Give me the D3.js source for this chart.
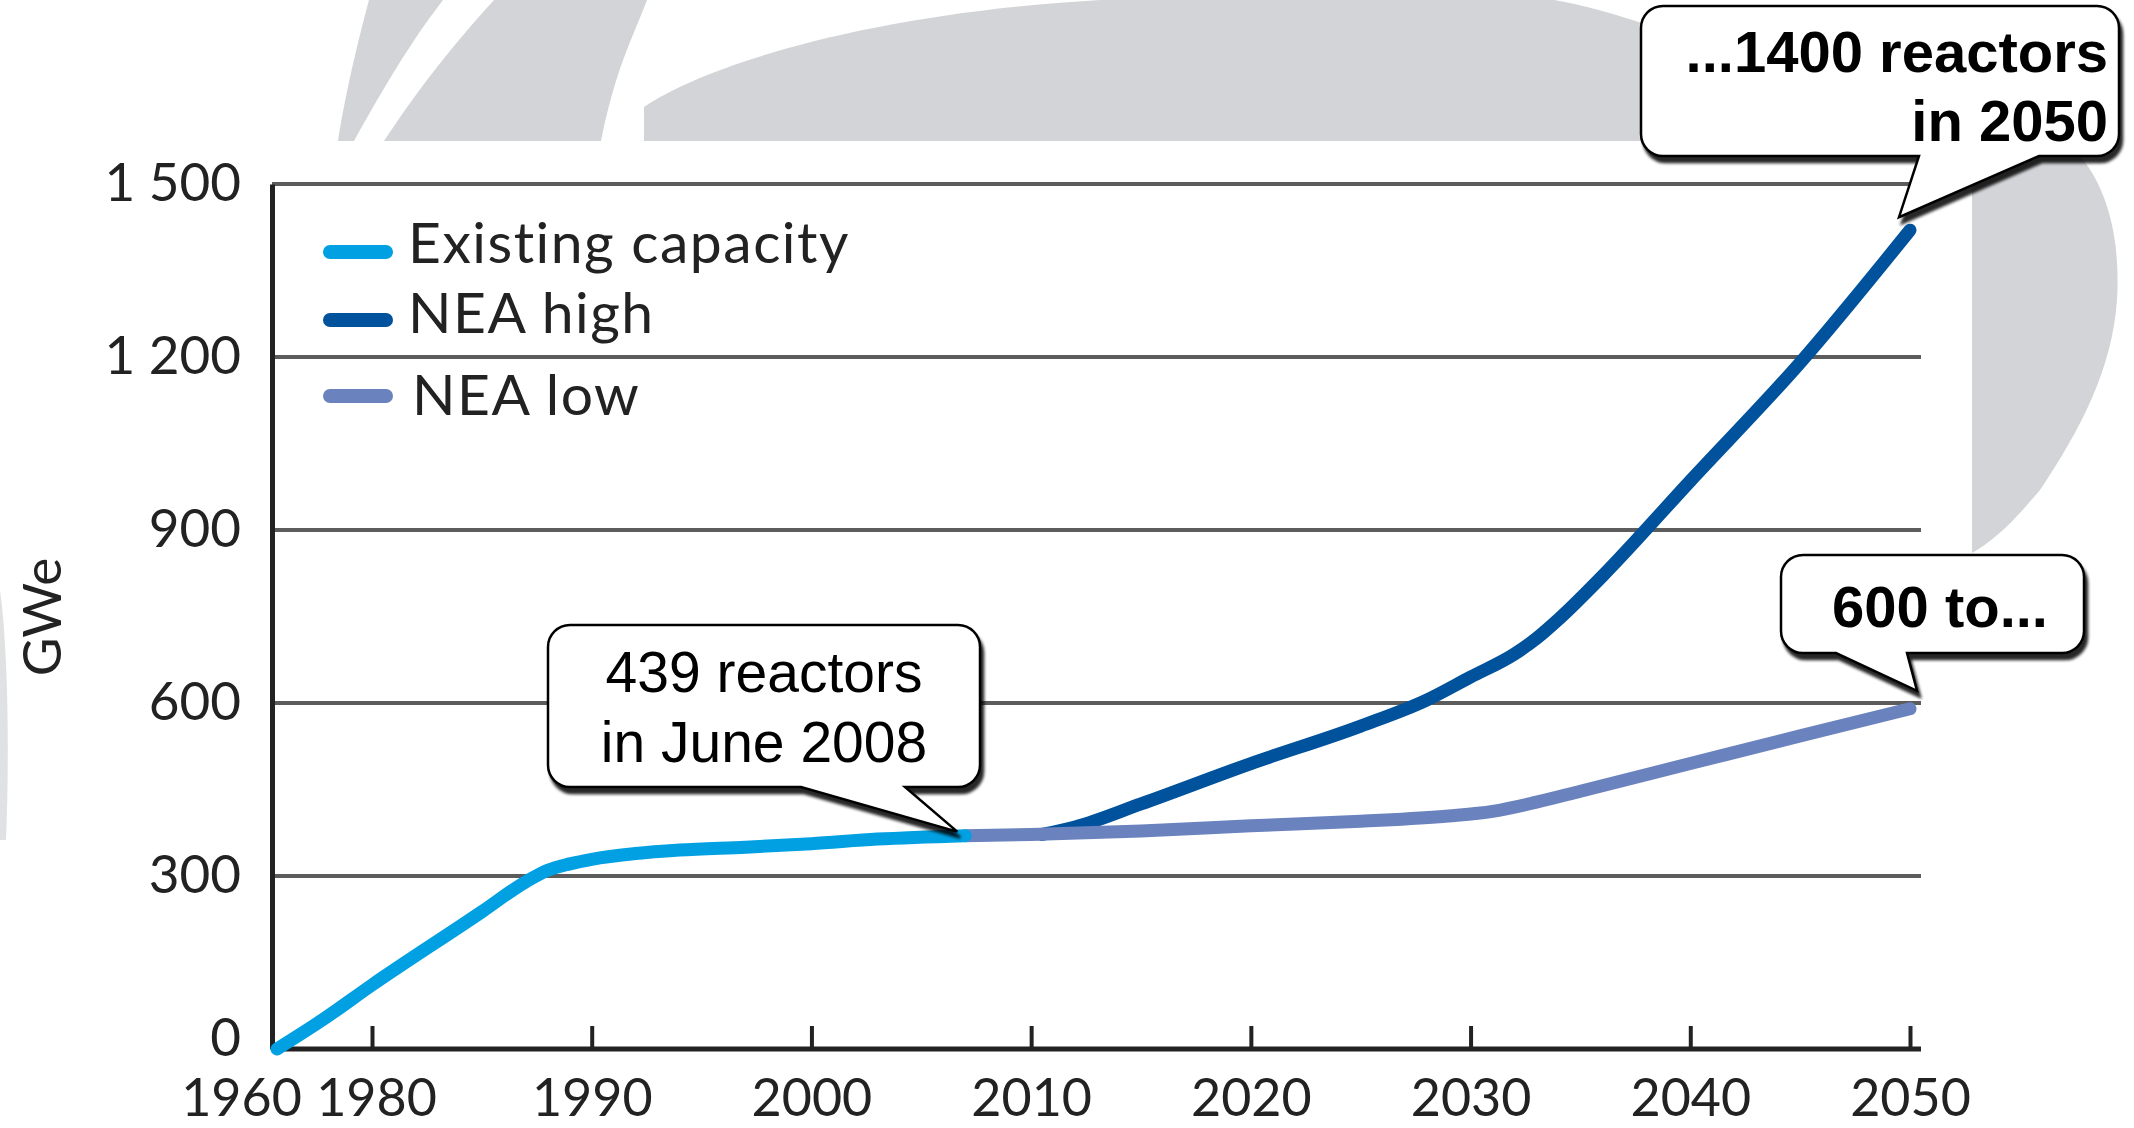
<!DOCTYPE html>
<html><head><meta charset="utf-8">
<script src="https://cdn.jsdelivr.net/npm/d3@7"></script>
<style>html,body{margin:0;padding:0;background:#fff;overflow:hidden} text{font-variant-ligatures:none;font-feature-settings:"liga" 0}</style>
</head><body>
<svg id="chart" width="2134" height="1128"></svg>
<script>
// ---- data ----
const existingYears  = [1961, 1970, 1980, 1985, 1987, 1988, 1989, 1990, 1992, 1994, 1997, 2000, 2003, 2007];
const existingValues = [0,    50,   111,  238,  290,  310,  321,  329,  339,  345,  350,  356,  364,  370];
const highYears  = [2010.5, 2012, 2015, 2020, 2025, 2028, 2030, 2032, 2033, 2034, 2036, 2040, 2045, 2050];
const highValues = [372,    385,  425,  495,  560,  605,  645,  685,  712,  745,  820,  985,  1190, 1420];
const lowYears  = [2007, 2010, 2015, 2020, 2025, 2029, 2031, 2033, 2035, 2040, 2045, 2050];
const lowValues = [370,  372,  378,  387,  395,  404,  412,  428,  447,  495,  543,  590];
const seriesNames  = ["Existing capacity", "NEA high", "NEA low"];
const seriesColors = ["#00a0e2", "#00529c", "#6a83be"];
const xTicks = [1960, 1980, 1990, 2000, 2010, 2020, 2030, 2040, 2050];
const xTickLabels = ["1960", "1980", "1990", "2000", "2010", "2020", "2030", "2040", "2050"];
const yTicks = [0, 300, 600, 900, 1200, 1500];
const yTickLabels = ["0", "300", "600", "900", "1 200", "1 500"];
const yLabel = "GWe";
const callout1 = ["439 reactors", "in June 2008"];
const callout2 = ["...1400 reactors", "in 2050"];
const callout3 = ["600 to..."];

const svg = d3.select("#chart");
const lightFont = "Lato, 'Open Sans', sans-serif";
const calloutFont = "'Liberation Sans', Arial, sans-serif";

// ---- scales ----
const x = d3.scaleLinear().domain([1960, 1980, 2050]).range([272, 372, 1910]);
const y = d3.scaleLinear().domain([0, 1500]).range([1049, 184]);
const xEnd = x(2050.5);

// ---- defs ----
const defs = svg.append("defs");
const f = defs.append("filter").attr("id", "shadow").attr("x", "-10%").attr("y", "-10%").attr("width", "130%").attr("height", "140%");
f.append("feGaussianBlur").attr("in", "SourceAlpha").attr("stdDeviation", 1.8).attr("result", "b");
f.append("feOffset").attr("in", "b").attr("dx", 3).attr("dy", 6).attr("result", "o");
f.append("feComponentTransfer").attr("in", "o").attr("result", "s")
  .append("feFuncA").attr("type", "linear").attr("slope", 0.85);
const m = f.append("feMerge");
m.append("feMergeNode").attr("in", "s");
m.append("feMergeNode").attr("in", "SourceGraphic");

// ---- background watermark ----
const wm = svg.append("g").attr("fill", "#d2d4d7");
wm.append("path").attr("d", "M338,141 C343,110 351,67 369,0 L443,0 C420,30 395,67 354,141 Z");
wm.append("path").attr("d", "M384,141 C405,110 433,67 494,0 L647,0 C632,40 616,67 601,141 Z");
wm.append("path").attr("d", "M644,141 L644,107 C700,68 860,14 1100,0 L1554,0 C1600,8 1640,22 1720,50 L1720,141 Z");
wm.append("path").attr("d", "M1972,157 L2081,157 C2112,195 2120,250 2117,300 C2112,370 2080,430 2040,490 C2015,520 1995,540 1972,553 Z");
wm.append("path").attr("d", "M0,590 C7,640 10,740 6,840 L0,840 Z").attr("opacity", 0.7);

// ---- gridlines ----
svg.append("g").selectAll("line").data(yTicks.filter(d => d > 0)).join("line")
  .attr("x1", x(1960)).attr("x2", xEnd)
  .attr("y1", d => y(d)).attr("y2", d => y(d))
  .attr("stroke", "#5c5c5c").attr("stroke-width", 4);

// ---- axes ----
const xAxis = svg.append("g").attr("transform", `translate(0,${y(0)})`)
  .call(d3.axisBottom(x).tickValues(xTicks).tickFormat((d, i) => xTickLabels[i])
    .tickSizeInner(-23).tickSizeOuter(0).tickPadding(30));
xAxis.select(".domain").attr("d", `M${x(1960)},0H${xEnd}`).attr("stroke", "#222").attr("stroke-width", 5);
xAxis.selectAll(".tick line").attr("stroke", "#222").attr("stroke-width", 4);
xAxis.selectAll(".tick").filter(d => d === 1960).select("line").remove();
xAxis.selectAll(".tick text").attr("font-family", lightFont).attr("font-weight", 400)
  .attr("font-size", 52).attr("fill", "#222")
  .attr("y", 67).attr("dy", 0)
  .attr("dx", d => d === 1960 ? -31 : (d === 1980 ? 4 : 0));

const yAxis = svg.append("g").attr("transform", `translate(${x(1960)},0)`)
  .call(d3.axisLeft(y).tickValues(yTicks).tickFormat((d, i) => yTickLabels[i]).tickSize(0).tickPadding(31));
yAxis.select(".domain").attr("stroke", "#222").attr("stroke-width", 5);
yAxis.selectAll(".tick text").attr("font-family", lightFont).attr("font-weight", 400)
  .attr("font-size", 53).attr("fill", "#222")
  .attr("dy", d => d === 0 ? "0.12em" : "0.32em");

svg.append("text").attr("transform", `translate(40,617) rotate(-90)`)
  .attr("text-anchor", "middle").attr("dominant-baseline", "central")
  .attr("font-family", lightFont).attr("font-weight", 400).attr("font-size", 53).attr("fill", "#222")
  .text(yLabel);

// ---- lines ----
const line = d3.line().x(d => x(d[0])).y(d => y(d[1])).curve(d3.curveMonotoneX);
const zip = (a, b) => a.map((v, i) => [v, b[i]]);
const series = [
  {name: seriesNames[1], color: seriesColors[1], pts: zip(highYears, highValues)},
  {name: seriesNames[2], color: seriesColors[2], pts: zip(lowYears, lowValues)},
  {name: seriesNames[0], color: seriesColors[0], pts: zip(existingYears, existingValues)}
];
svg.append("g").selectAll("path").data(series).join("path")
  .attr("d", d => line(d.pts)).attr("fill", "none").attr("stroke", d => d.color)
  .attr("stroke-width", 13).attr("stroke-linecap", "round").attr("stroke-linejoin", "round");

// ---- legend ----
const legY = [252, 320, 396], legTextY = [263, 333, 415], legTextX = [408, 408, 412];
const leg = svg.append("g").selectAll("g").data(seriesNames).join("g");
leg.append("line").attr("x1", 330).attr("x2", 386).attr("y1", (d, i) => legY[i]).attr("y2", (d, i) => legY[i])
  .attr("stroke", (d, i) => seriesColors[i]).attr("stroke-width", 14).attr("stroke-linecap", "round");
leg.append("text").attr("x", (d, i) => legTextX[i]).attr("y", (d, i) => legTextY[i])
  .attr("font-family", lightFont).attr("font-weight", 400).attr("font-size", 57).attr("fill", "#222")
  .attr("letter-spacing", 1.5)
  .text(d => d);

// ---- callouts ----
function calloutPath(x0, y0, x1, y1, r, bx0, bx1, tx, ty) {
  return `M${x0 + r},${y0}H${x1 - r}A${r},${r} 0 0 1 ${x1},${y0 + r}V${y1 - r}A${r},${r} 0 0 1 ${x1 - r},${y1}` +
    `H${bx1}L${tx},${ty}L${bx0},${y1}H${x0 + r}A${r},${r} 0 0 1 ${x0},${y1 - r}V${y0 + r}A${r},${r} 0 0 1 ${x0 + r},${y0}Z`;
}
function callout(box, base, tip, lines, opts) {
  const g = svg.append("g");
  g.append("path").attr("d", calloutPath(box[0], box[1], box[2], box[3], 22, base[0], base[1], tip[0], tip[1]))
    .attr("fill", "#fff").attr("stroke", "#000").attr("stroke-width", 2.5).attr("filter", "url(#shadow)");
  g.selectAll("text").data(lines).join("text")
    .attr("x", opts.x).attr("y", (d, i) => opts.y[i])
    .attr("text-anchor", opts.anchor).attr("font-family", calloutFont)
    .attr("font-weight", opts.weight).attr("font-size", opts.size).attr("fill", "#000")
    .text(d => d);
}
callout([548, 625, 980, 787], [801, 905], [x(2007) - 8, y(370) - 4], callout1,
  {x: 764, y: [692, 762], anchor: "middle", weight: 400, size: 57});
callout([1641, 6, 2119, 156], [1919, 2039], [x(2050) - 11, y(1420) - 13], callout2,
  {x: 2108, y: [72, 141], anchor: "end", weight: 700, size: 58});
callout([1781, 555, 2084, 653], [1836, 1907], [x(2050) + 7, y(590) - 18], callout3,
  {x: 1940, y: [627], anchor: "middle", weight: 700, size: 58});
</script>
</body></html>
